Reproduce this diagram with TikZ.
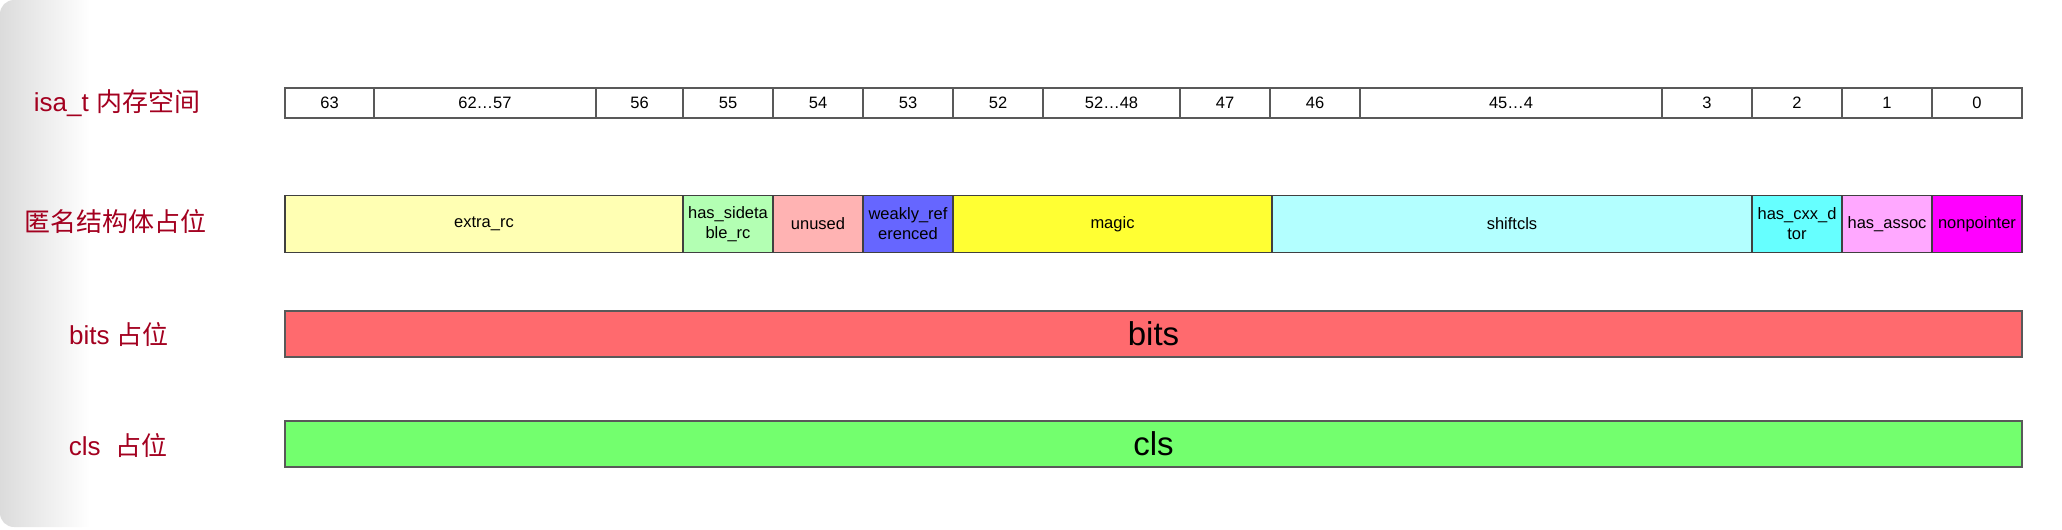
\documentclass[tikz,border=0pt]{standalone}
\usepackage{fontspec}
\setmainfont{Liberation Sans}
\newfontfamily\cjk{Noto Sans CJK SC}
\definecolor{labred}{HTML}{A3001F}
\definecolor{cExtra}{HTML}{FFFFB3}
\definecolor{cSide}{HTML}{B3FFB3}
\definecolor{cUnused}{HTML}{FFB3B3}
\definecolor{cWeak}{HTML}{6666FF}
\definecolor{cMagic}{HTML}{FFFF33}
\definecolor{cShift}{HTML}{B3FFFF}
\definecolor{cCxx}{HTML}{66FFFF}
\definecolor{cAssoc}{HTML}{FFA8FF}
\definecolor{cNonptr}{HTML}{FF00FF}
\definecolor{cBits}{HTML}{FF6A6E}
\definecolor{cCls}{HTML}{73FF6E}
\tikzset{
  cell/.style={draw=black!65, line width=1.2pt, inner sep=0pt, minimum height=30pt,
    align=center, font=\fontsize{16.5pt}{20pt}\selectfont},
  field/.style={cell, draw=black!75, minimum height=57pt},
  bar/.style={cell, minimum height=46pt, minimum width=1737pt, font=\fontsize{33pt}{38pt}\selectfont},
  rowlabel/.style={text=labred, inner sep=0pt, font=\fontsize{26pt}{30pt}\selectfont}
}
\begin{document}
\begin{tikzpicture}[x=1pt,y=-1pt]
    \useasboundingbox (0,0) rectangle (2062,530);
    % card edge
    \shade[left color=black!14, right color=white] (90,0) [rounded corners=14pt] -- (0,0) -- (0,527) [sharp corners] -- (90,527) -- cycle;
    % row labels
    \node[rowlabel] (lisa) at (117,103) {isa\_t {\cjk 内存空间}};
    \node[rowlabel] (lfield) at (115,222) {\cjk 匿名结构体占位};
    \node[rowlabel] (lbits) at (119,335) {bits {\cjk 占位}};
    \node[rowlabel] (lcls) at (118,446) {cls\ \ {\cjk 占位}};
    % bit numbers
    \foreach \l/\r/\t [count=\i] in {285/374/63, 374/596/62…57, 596/683/56, 683/773/55, 773/863/54,
        863/953/53, 953/1043/52, 1043/1180/52…48, 1180/1270/47, 1270/1360/46, 1360/1662/45…4,
        1662/1752/3, 1752/1842/2, 1842/1932/1, 1932/2022/0}
      \node[cell, minimum width={(\r-\l)*1pt}] (n\i) at ({(\l+\r)/2},103) {\t};
    % struct fields
    \foreach \l/\r/\t/\c [count=\i] in {285/683/extra\_rc/cExtra, 683/773/{has\_sideta\\ble\_rc}/cSide,
        773/863/unused/cUnused, 863/953/{weakly\_ref\\erenced}/cWeak, 953/1272/magic/cMagic,
        1272/1752/shiftcls/cShift, 1752/1842/{has\_cxx\_d\\tor}/cCxx, 1842/1932/has\_assoc/cAssoc,
        1932/2022/nonpointer/cNonptr}
      \node[field, fill=\c, minimum width={(\r-\l)*1pt}] (f\i) at ({(\l+\r)/2},224) {\t};
    % bits and cls
    \node[bar, fill=cBits] (bits) at (1153.5,334) {bits};
    \node[bar, fill=cCls] (cls) at (1153.5,444) {cls};
\end{tikzpicture}
\end{document}
